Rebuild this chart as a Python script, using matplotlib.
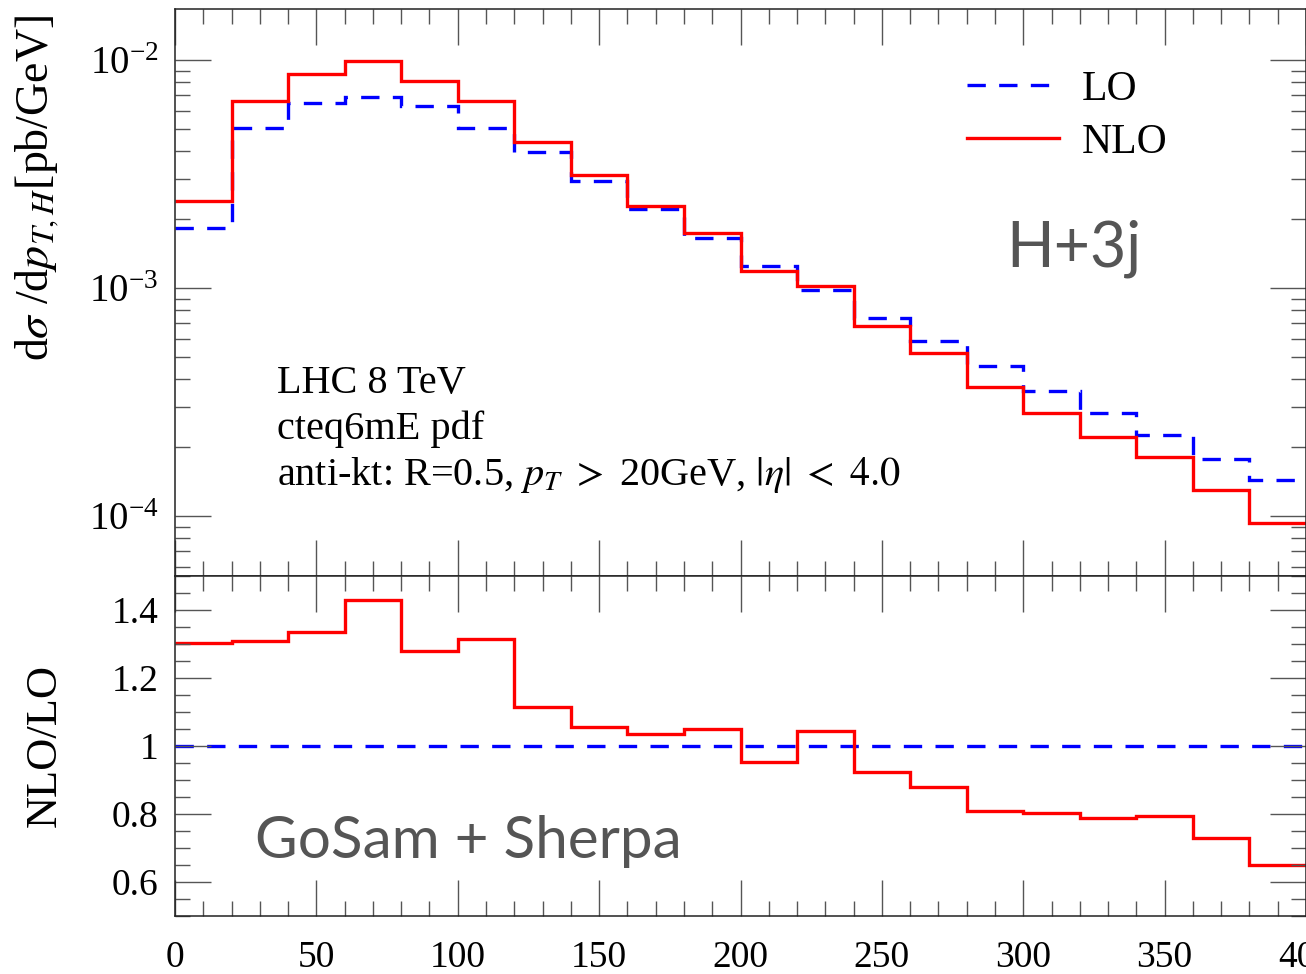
import numpy as np
import matplotlib
matplotlib.use("Agg")
import matplotlib.pyplot as plt
from matplotlib.ticker import MultipleLocator, LogLocator, NullFormatter, FuncFormatter

plt.rcParams['font.family'] = ['Liberation Serif', 'DejaVu Serif']
plt.rcParams['mathtext.fontset'] = 'stix'

# Higgs transverse momentum bins [GeV]
pt_edges = np.arange(0, 420, 20)

# d sigma / d pT,H [pb/GeV]
lo_xsec = [1.84e-3, 5.05e-3, 6.48e-3, 6.90e-3, 6.26e-3, 5.04e-3, 3.94e-3, 2.96e-3,
           2.22e-3, 1.66e-3, 1.25e-3, 9.80e-4, 7.41e-4, 5.85e-4, 4.56e-4, 3.55e-4,
           2.82e-4, 2.26e-4, 1.78e-4, 1.44e-4]
nlo_xsec = [2.40e-3, 6.61e-3, 8.65e-3, 9.90e-3, 8.06e-3, 6.63e-3, 4.38e-3, 3.12e-3,
            2.30e-3, 1.74e-3, 1.19e-3, 1.02e-3, 6.81e-4, 5.18e-4, 3.69e-4, 2.82e-4,
            2.23e-4, 1.81e-4, 1.30e-4, 9.35e-5]

# NLO/LO ratio per bin
nlo_over_lo = [1.303, 1.310, 1.335, 1.429, 1.279, 1.316, 1.115, 1.055, 1.036, 1.050,
               0.951, 1.043, 0.924, 0.878, 0.807, 0.802, 0.788, 0.794, 0.729, 0.650]

W, H = 1306, 974


def px(x, y):
    """pixel position -> figure fraction"""
    return x / W, 1 - y / H


def style_axis(ax):
    ax.tick_params(which='both', direction='in', top=True, right=True,
                   color='#555555', width=1.0)
    ax.tick_params(which='major', length=26, labelsize=27, pad=12)
    ax.tick_params(which='minor', length=11)
    ax.xaxis.set_major_locator(MultipleLocator(50))
    ax.xaxis.set_minor_locator(MultipleLocator(10))
    for s in ax.spines.values():
        s.set_linewidth(1.1)
        s.set_color('#222222')


fig = plt.figure(figsize=(W / 100, H / 100), dpi=100)
left = 175 / W
ax1 = fig.add_axes([left, (H - 576) / H, 1 - left, (576 - 9) / H])
ax2 = fig.add_axes([left, (H - 915.7) / H, 1 - left, (915.7 - 576) / H])

lo_style = dict(color='#0000ff', linewidth=2.4, linestyle=(0, (5.5, 4)))
nlo_style = dict(color='#ff0000', linewidth=2.4)

# spectrum
ax1.stairs(lo_xsec, pt_edges, baseline=None, label='LO', **lo_style)
ax1.stairs(nlo_xsec, pt_edges, baseline=None, label='NLO', **nlo_style)
ax1.set_yscale('log')
ax1.set_xlim(0, 400)
ax1.set_ylim(5.46e-5, 1.675e-2)
style_axis(ax1)
ax1.tick_params(axis='y', which='major', labelsize=28)
ax1.yaxis.set_major_locator(LogLocator(base=10))
ax1.yaxis.set_minor_locator(LogLocator(base=10, subs=np.arange(2, 10)))
ax1.yaxis.set_minor_formatter(NullFormatter())
ax1.tick_params(labelbottom=False)

leg = ax1.legend(loc='upper left', bbox_to_anchor=px(967, 70),
                 bbox_transform=fig.transFigure, frameon=False, fontsize=30,
                 handlelength=2.2, handletextpad=0.55, labelspacing=0.35,
                 borderpad=0, borderaxespad=0)

# ratio panel
ax2.stairs(np.divide(lo_xsec, lo_xsec), pt_edges, baseline=None, **lo_style)
ax2.stairs(nlo_over_lo, pt_edges, baseline=None, **nlo_style)
ax2.set_xlim(0, 400)
ax2.set_ylim(0.5, 1.5)
style_axis(ax2)
ax2.tick_params(axis='x', which='major', pad=18)
ax2.yaxis.set_major_locator(MultipleLocator(0.2))
ax2.yaxis.set_minor_locator(MultipleLocator(0.05))
ax2.yaxis.set_major_formatter(FuncFormatter(lambda v, pos: '%g' % round(v, 2)))

# labels and annotations
fig.text(*px(37, 188), r'd$\sigma$ /d$p_{T,H}$[pb/GeV]', rotation=90,
         ha='center', va='center', fontsize=33)
fig.text(*px(45, 745), 'NLO/LO', rotation=90, ha='center', va='center', fontsize=32)

fig.text(*px(277, 393), 'LHC 8 TeV', fontsize=29, va='baseline')
fig.text(*px(277, 439), 'cteq6mE pdf', fontsize=29, va='baseline')
fig.text(*px(277, 485), r'anti-kt: R=0.5, $p_T\ >\ $20GeV, $|\eta|\ <\ 4.0$',
         fontsize=29, va='baseline')

fig.text(*px(1006, 267), 'H+3j', fontsize=45, color='#555555',
         family='Lato', va='baseline')
fig.text(*px(255, 858), 'GoSam + Sherpa', fontsize=42, color='#555555',
         family='Lato', va='baseline')

fig.savefig('out.png', dpi=100)
